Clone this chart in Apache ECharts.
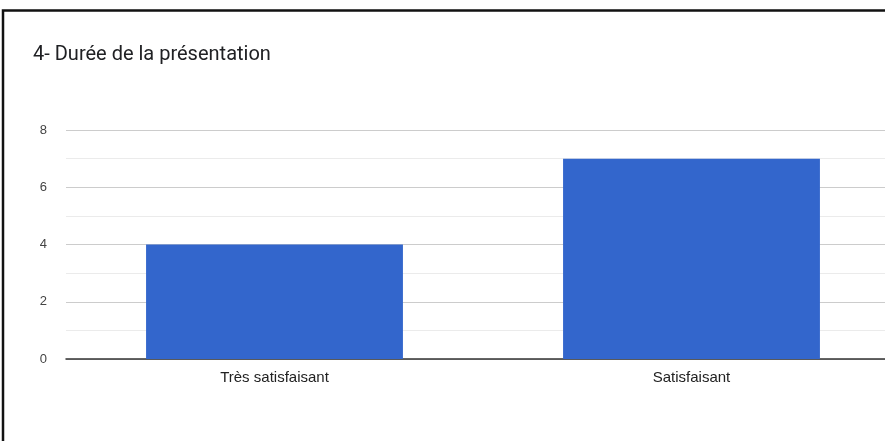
<!DOCTYPE html>
<html>
<head>
<meta charset="utf-8">
<script src="https://cdn.jsdelivr.net/npm/echarts@6/dist/echarts.min.js"></script>
<style>
  html, body { margin: 0; padding: 0; background: #fff; overflow: hidden; }
  #chart { width: 900px; height: 441px; }
</style>
</head>
<body>
<div id="chart"></div>
<script>
// Survey question: presentation length
const chartTitle = '4- Durée de la présentation';
const categories = ['Très satisfaisant', 'Satisfaisant'];
const counts = [4, 7];
const yTicks = { min: 0, max: 8, step: 2 };

const chart = echarts.init(document.getElementById('chart'), null, { renderer: 'canvas' });

chart.setOption({
  backgroundColor: '#ffffff',
  animation: false,
  title: {
    text: chartTitle,
    left: 33,
    top: 45,
    padding: 0,
    textStyle: {
      fontFamily: 'Roboto',
      fontSize: 20,
      fontWeight: 'normal',
      color: '#202124'
    }
  },
  // the plot runs a little past the right edge of the visible frame
  grid: {
    left: 66,
    top: 130,
    right: 0,
    bottom: 82,
    containLabel: false
  },
  xAxis: {
    type: 'category',
    data: categories,
    axisTick: { show: false },
    axisLine: { show: true, lineStyle: { color: '#333333', width: 1.5 } },
    axisLabel: {
      margin: 11,
      fontFamily: 'Liberation Sans',
      fontSize: 15,
      color: '#222222'
    },
    splitLine: { show: false }
  },
  yAxis: {
    type: 'value',
    min: yTicks.min,
    max: yTicks.max,
    interval: yTicks.step,
    axisLine: { show: false },
    axisTick: { show: false },
    axisLabel: {
      margin: 19,
      fontFamily: 'Liberation Sans',
      fontSize: 13,
      color: '#444444'
    },
    splitLine: { show: true, lineStyle: { color: '#cccccc', width: 1 } },
    minorTick: { show: false, splitNumber: 2 },
    minorSplitLine: { show: true, lineStyle: { color: '#ebebeb', width: 1 } }
  },
  series: [{
    type: 'bar',
    data: counts,
    barWidth: '61.6%',
    itemStyle: { color: '#3366cc' },
    z: 3
  }],
  graphic: [{
    type: 'polyline',
    shape: { points: [[3, 441], [3, 10.5], [900, 10.5]] },
    style: { stroke: '#111111', lineWidth: 2.5, fill: null },
    silent: true,
    z: 100
  }]
});
</script>
</body>
</html>
